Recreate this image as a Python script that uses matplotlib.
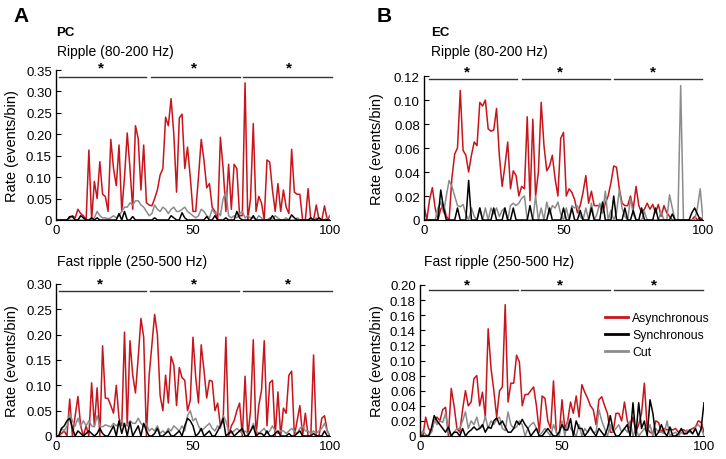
import numpy as np
import matplotlib
matplotlib.use("Agg")
import matplotlib.pyplot as plt

plt.rcParams['font.family'] = ['Liberation Sans', 'DejaVu Sans']

# time bins 0..100
bins = list(range(101))

# PC, ripple (80-200 Hz)
pc_rip_asyn = [0, 0, 0, 0, 0, 0.005, 0.01, 0.005, 0.025, 0.015,
               0.01, 0.0, 0.163, 0.0, 0.09, 0.05, 0.136, 0.06, 0.055, 0.02,
               0.188, 0.12, 0.08, 0.175, 0.02, 0.1, 0.203, 0.12, 0.025, 0.22,
               0.19, 0.07, 0.175, 0.04, 0.035, 0.033, 0.05, 0.07, 0.105, 0.12,
               0.24, 0.22, 0.283, 0.2, 0.065, 0.238, 0.247, 0.12, 0.17, 0.1,
               0.02, 0.02, 0.1, 0.188, 0.14, 0.075, 0.085, 0.03, 0.02, 0.0,
               0.193, 0.12, 0.02, 0.13, 0.025, 0.13, 0.12, 0.01, 0.01, 0.32,
               0.0, 0.05, 0.225, 0.02, 0.055, 0.04, 0.0, 0.14, 0.135, 0.07,
               0.02, 0.085, 0.02, 0.07, 0.03, 0.015, 0.165, 0.065, 0.06, 0.06,
               0.0, 0.0, 0.073, 0.0, 0.0, 0.035, 0.0, 0.0, 0.033, 0.0, 0.01]
pc_rip_syn = [0, 0, 0, 0, 0, 0.008, 0.008, 0, 0, 0.01,
              0.005, 0, 0, 0.005, 0, 0.005, 0, 0, 0, 0,
              0, 0, 0, 0.015, 0, 0.02, 0, 0, 0.008, 0,
              0, 0, 0, 0, 0, 0, 0.005, 0, 0, 0,
              0, 0, 0.01, 0.005, 0, 0, 0.017, 0.005, 0, 0,
              0, 0, 0, 0, 0, 0.008, 0, 0, 0.01, 0,
              0, 0, 0.005, 0, 0, 0, 0.02, 0.005, 0, 0,
              0, 0, 0.01, 0, 0, 0, 0, 0, 0, 0.01,
              0, 0, 0, 0, 0, 0, 0.012, 0.005, 0, 0,
              0, 0, 0, 0.005, 0, 0, 0.005, 0, 0, 0, 0]
pc_rip_cut = [0, 0, 0, 0, 0, 0, 0, 0, 0, 0,
              0, 0, 0, 0, 0.005, 0.02, 0.01, 0.005, 0.005, 0.003,
              0.005, 0.01, 0.005, 0.01, 0.02, 0.03, 0.03, 0.04, 0.035, 0.045,
              0.045, 0.035, 0.03, 0.02, 0.01, 0.015, 0.035, 0.025, 0.02, 0.03,
              0.025, 0.015, 0.025, 0.03, 0.02, 0.02, 0.025, 0.03, 0.02, 0.015,
              0.01, 0.005, 0.01, 0.025, 0.02, 0.01, 0.005, 0.025, 0.015, 0.02,
              0.01, 0.05, 0.065, 0.01, 0.005, 0.01, 0.005, 0.015, 0.02, 0.005,
              0.01, 0.005, 0.005, 0, 0.01, 0.005, 0, 0, 0.005, 0,
              0.01, 0.005, 0, 0, 0.005, 0, 0, 0, 0.005, 0,
              0, 0, 0, 0, 0, 0.005, 0, 0, 0, 0.005, 0.01]

# EC, ripple (80-200 Hz)
ec_rip_asyn = [0.012, 0.0, 0.017, 0.027, 0.01, 0.0, 0.009, 0.013, 0.003, 0.0,
               0.035, 0.055, 0.06, 0.108, 0.058, 0.054, 0.04, 0.054, 0.065, 0.062,
               0.098, 0.095, 0.1, 0.076, 0.074, 0.075, 0.093, 0.054, 0.028, 0.045,
               0.065, 0.026, 0.041, 0.037, 0.02, 0.028, 0.026, 0.086, 0.016, 0.084,
               0.02, 0.04, 0.098, 0.062, 0.041, 0.045, 0.054, 0.034, 0.02, 0.068,
               0.073, 0.02, 0.026, 0.023, 0.017, 0.006, 0.012, 0.023, 0.037, 0.014,
               0.024, 0.012, 0.012, 0.012, 0.006, 0.014, 0.02, 0.031, 0.045, 0.044,
               0.026, 0.014, 0.012, 0.012, 0.02, 0.009, 0.028, 0.012, 0.006, 0.009,
               0.014, 0.009, 0.013, 0.006, 0.013, 0.003, 0.012, 0.006, 0.003, 0.0,
               0, 0, 0, 0, 0, 0, 0, 0.003, 0, 0.002, 0]
ec_rip_syn = [0, 0, 0, 0, 0, 0, 0.025, 0.01, 0, 0,
              0, 0, 0.01, 0, 0, 0, 0.033, 0, 0, 0,
              0.01, 0, 0, 0, 0, 0.01, 0, 0, 0, 0.01,
              0, 0, 0.01, 0, 0, 0, 0, 0, 0.012, 0,
              0, 0, 0, 0, 0, 0.01, 0, 0, 0, 0,
              0.01, 0, 0, 0.01, 0, 0, 0.008, 0, 0, 0,
              0.01, 0, 0, 0, 0.015, 0, 0, 0, 0.02, 0,
              0, 0, 0.01, 0, 0, 0.008, 0, 0, 0.01, 0,
              0, 0, 0, 0.01, 0, 0, 0, 0, 0, 0.005,
              0, 0, 0, 0, 0, 0, 0.006, 0.01, 0.005, 0, 0]
ec_rip_cut = [0, 0, 0, 0, 0, 0.01, 0.015, 0.006, 0.02, 0.033,
              0.028, 0.02, 0.012, 0.011, 0.013, 0.005, 0, 0.01, 0.003, 0,
              0.01, 0, 0.01, 0, 0.01, 0.005, 0.01, 0.003, 0.008, 0.01,
              0, 0.012, 0.014, 0.012, 0.014, 0.018, 0.02, 0, 0, 0,
              0.02, 0, 0.01, 0, 0.015, 0.005, 0.012, 0.01, 0.015, 0.005,
              0, 0.01, 0, 0.012, 0.01, 0.012, 0.003, 0, 0.01, 0,
              0.014, 0, 0.005, 0.014, 0.006, 0.024, 0, 0.008, 0, 0.006,
              0.025, 0.01, 0.003, 0, 0.018, 0.005, 0, 0, 0, 0.007,
              0, 0, 0, 0, 0, 0.007, 0, 0, 0.021, 0.01,
              0, 0, 0.112, 0, 0, 0, 0, 0, 0.01, 0.026, 0]

# PC, fast ripple (250-500 Hz)
pc_fr_asyn = [0, 0, 0.005, 0.01, 0.0, 0.073, 0.0, 0.04, 0.078, 0.02,
              0, 0.02, 0, 0.105, 0.02, 0.095, 0, 0.178, 0.075, 0.074,
              0.06, 0.045, 0.1, 0.035, 0.02, 0.205, 0.02, 0.188, 0.12, 0.085,
              0.155, 0.232, 0.195, 0.0, 0.12, 0.18, 0.24, 0.2, 0.08, 0.05,
              0.12, 0.065, 0.157, 0.14, 0.06, 0.135, 0.115, 0.11, 0.05, 0.07,
              0.195, 0.115, 0.065, 0.18, 0.13, 0.075, 0.11, 0.108, 0.05, 0.065,
              0.02, 0.03, 0.195, 0.0, 0.02, 0.03, 0.05, 0.065, 0.0, 0.118,
              0.0, 0.05, 0.19, 0.0, 0.06, 0.09, 0.188, 0.02, 0.105, 0.11,
              0.0, 0.087, 0.0, 0.055, 0.045, 0.12, 0.128, 0.0, 0.03, 0.06,
              0.0, 0.045, 0.0, 0.0, 0.16, 0.0, 0.0, 0.035, 0.04, 0.01, 0.0]
pc_fr_syn = [0, 0, 0.015, 0.02, 0.03, 0.035, 0.015, 0, 0.01, 0.005,
             0, 0.005, 0.01, 0.005, 0, 0.005, 0.015, 0.005, 0, 0,
             0.01, 0.02, 0, 0.03, 0.005, 0.025, 0, 0.028, 0, 0.01,
             0.02, 0, 0.025, 0.01, 0, 0, 0.005, 0.015, 0, 0,
             0.005, 0.01, 0, 0, 0.005, 0.01, 0, 0.02, 0.035, 0.03,
             0.02, 0, 0.005, 0.015, 0, 0.005, 0.01, 0, 0, 0.01,
             0.02, 0.035, 0, 0.005, 0.01, 0, 0.005, 0.01, 0.015, 0,
             0, 0.01, 0.02, 0, 0.005, 0.005, 0, 0.01, 0, 0,
             0.005, 0.01, 0, 0, 0, 0.005, 0, 0, 0.005, 0.01,
             0, 0, 0, 0, 0.005, 0, 0, 0, 0.01, 0, 0]
pc_fr_cut = [0, 0, 0.015, 0.01, 0.02, 0.045, 0.03, 0.02, 0.035, 0.02,
             0.03, 0.02, 0.03, 0.02, 0.018, 0.04, 0.02, 0.018, 0.022, 0.02,
             0.018, 0.025, 0.02, 0.025, 0.03, 0.02, 0.022, 0.03, 0.025, 0.025,
             0.035, 0.025, 0.02, 0.025, 0.01, 0.015, 0.01, 0.02, 0.005, 0.01,
             0.005, 0.015, 0.01, 0.02, 0.015, 0.01, 0.02, 0.01, 0.04, 0.05,
             0.03, 0.035, 0.02, 0.01, 0.015, 0.02, 0.025, 0.015, 0.01, 0.02,
             0.015, 0.04, 0.03, 0.01, 0.005, 0.01, 0.015, 0.01, 0.005, 0.01,
             0.005, 0.01, 0.025, 0.01, 0.005, 0.01, 0.015, 0.005, 0.01, 0.02,
             0.01, 0.005, 0.01, 0.01, 0.005, 0.01, 0.015, 0.01, 0.005, 0.015,
             0.02, 0.01, 0.01, 0.005, 0.01, 0.005, 0.01, 0.015, 0.025, 0.01, 0]

# EC, fast ripple (250-500 Hz)
ec_fr_asyn = [0.005, 0, 0.025, 0.01, 0.005, 0.02, 0.025, 0.02, 0.035, 0.038,
              0.0, 0.063, 0.04, 0.01, 0.005, 0.035, 0.06, 0.04, 0.045, 0.076,
              0.08, 0.04, 0.058, 0.025, 0.142, 0.09, 0.06, 0.025, 0.06, 0.065,
              0.174, 0.045, 0.07, 0.07, 0.107, 0.098, 0.04, 0.055, 0.055, 0.06,
              0.065, 0.04, 0.005, 0.053, 0.05, 0.02, 0.01, 0.073, 0.005, 0.0,
              0.048, 0.01, 0.02, 0.045, 0.03, 0.053, 0.025, 0.068, 0.058, 0.05,
              0.04, 0.035, 0.015, 0.048, 0.052, 0.04, 0.03, 0.005, 0.005, 0.03,
              0.03, 0.02, 0.045, 0.02, 0.01, 0.025, 0.005, 0.015, 0.03, 0.07,
              0.01, 0.005, 0.003, 0.02, 0.018, 0.005, 0.01, 0.008, 0.01, 0.008,
              0.01, 0.005, 0.008, 0.008, 0.005, 0.008, 0.01, 0.012, 0.02, 0.018, 0.005]
ec_fr_syn = [0, 0, 0, 0, 0.01, 0.027, 0.02, 0.015, 0.01, 0.005,
             0.012, 0, 0.005, 0.005, 0, 0.01, 0, 0.005, 0.008, 0.012,
             0.008, 0.01, 0.015, 0.005, 0.012, 0.01, 0.02, 0.024, 0.015, 0.02,
             0.012, 0.005, 0.005, 0.01, 0.02, 0.015, 0.022, 0.015, 0.01, 0,
             0.005, 0.01, 0, 0, 0.005, 0.01, 0.005, 0, 0, 0.005,
             0.015, 0.008, 0.008, 0.023, 0, 0.02, 0.01, 0.01, 0, 0.005,
             0.012, 0.005, 0, 0.01, 0.005, 0, 0.01, 0.027, 0.008, 0,
             0, 0.005, 0.01, 0.015, 0, 0.044, 0, 0.044, 0.01, 0.02,
             0, 0.048, 0.03, 0, 0.005, 0.015, 0.005, 0, 0.012, 0,
             0, 0.003, 0.01, 0.003, 0.003, 0.008, 0.003, 0.01, 0, 0.01, 0.044]
ec_fr_cut = [0, 0.007, 0.002, 0, 0.005, 0.022, 0.015, 0.02, 0.018, 0.03,
             0.005, 0, 0.005, 0.01, 0.01, 0.02, 0.032, 0.01, 0.02, 0.015,
             0.025, 0.01, 0.012, 0.026, 0.01, 0.02, 0.015, 0.022, 0.025, 0.01,
             0.007, 0.032, 0.015, 0.01, 0.012, 0.02, 0.015, 0, 0.01, 0.015,
             0.018, 0.01, 0, 0.005, 0.01, 0.005, 0, 0.015, 0.005, 0,
             0.02, 0, 0.02, 0.01, 0.005, 0, 0.015, 0, 0.01, 0.005,
             0.01, 0.005, 0.005, 0.035, 0.02, 0.01, 0, 0.015, 0.005, 0.01,
             0.015, 0.005, 0.01, 0.005, 0.02, 0, 0.01, 0, 0.005, 0.01,
             0.005, 0.015, 0, 0.01, 0.005, 0.005, 0.003, 0.02, 0, 0.003,
             0.005, 0, 0.005, 0.002, 0.008, 0.005, 0.003, 0.012, 0.015, 0.01, 0]

RED = '#c8141b'
BLK = '#000000'
GRY = '#8c8c8c'
W, H = 726, 460


def px_rect(left, right, bottom, top):
    return [left / W, 1 - bottom / H, (right - left) / W, (bottom - top) / H]


def draw_panel(ax, asyn, syn, cut, ymax, ystep, bar_y, segs, stars, star_y, label_x):
    ax.plot(bins, asyn, color=RED, lw=1.1, label='Asynchronous')
    ax.plot(bins, cut, color=GRY, lw=1.1, label='Cut')
    ax.plot(bins, syn, color=BLK, lw=1.1, label='Synchronous')
    ax.set_xlim(0, 100)
    ax.set_ylim(0, ymax)
    ticks = np.round(np.arange(0, ymax + ystep / 2, ystep), 3)
    ax.set_yticks(ticks)
    ax.set_yticklabels(['0'] + ['%.2f' % t for t in ticks[1:]])
    ax.set_xticks([0, 50, 100])
    ax.spines['top'].set_visible(False)
    ax.spines['right'].set_visible(False)
    ax.spines['left'].set_linewidth(1.0)
    ax.spines['bottom'].set_linewidth(0.8)
    ax.tick_params(axis='y', direction='in', length=3.5, labelsize=9.5, pad=3)
    ax.tick_params(axis='x', length=0, labelsize=9.5, pad=3)
    ax.set_ylabel('Rate (events/bin)', fontsize=10.5)
    ax.yaxis.set_label_coords(label_x, 0.5)
    for s0, s1 in segs:
        ax.plot([s0, s1], [bar_y, bar_y], color='#333333', lw=1.0, clip_on=False)
    for sx in stars:
        ax.text(sx, star_y, '*', ha='center', va='center', fontsize=11,
                fontweight='bold', clip_on=False)


fig = plt.figure(figsize=(W / 100, H / 100), dpi=100)

ax1 = fig.add_axes(px_rect(56, 330, 221, 71))
draw_panel(ax1, pc_rip_asyn, pc_rip_syn, pc_rip_cut, 0.35, 0.05, 0.334,
           [(1, 33), (34.5, 67), (68.4, 100.6)], [16.5, 50.5, 85], 0.357, -0.135)

ax2 = fig.add_axes(px_rect(424, 703, 221, 77))
draw_panel(ax2, ec_rip_asyn, ec_rip_syn, ec_rip_cut, 0.12, 0.02, 0.1175,
           [(1.9, 33.4), (35, 66.6), (68, 99.8)], [15.5, 48.7, 81.9], 0.124, -0.143)

ax3 = fig.add_axes(px_rect(56, 330, 437, 285))
draw_panel(ax3, pc_fr_asyn, pc_fr_syn, pc_fr_cut, 0.30, 0.05, 0.287,
           [(1, 32.7), (34.3, 66.8), (68.4, 100.6)], [16, 50.4, 84.8], 0.301, -0.135)

ax4 = fig.add_axes(px_rect(420, 704, 437, 286))
draw_panel(ax4, ec_fr_asyn, ec_fr_syn, ec_fr_cut, 0.20, 0.02, 0.193,
           [(3, 34.5), (35.6, 67), (68.4, 99.8)], [16.5, 49.4, 82.5], 0.201, -0.127)

handles, labels = ax4.get_legend_handles_labels()
order = [0, 2, 1]
ax4.legend([handles[i] for i in order], [labels[i] for i in order],
           loc='upper left', bbox_to_anchor=(0.65, 0.82), frameon=False,
           fontsize=8.8, handlelength=1.9, handletextpad=0.35,
           labelspacing=0.4, borderpad=0, borderaxespad=0)
for line in ax4.get_legend().get_lines():
    line.set_linewidth(2.0)

# panel letters and titles
fig.text(13 / W, 1 - 17 / H, 'A', fontsize=15, fontweight='bold', va='center')
fig.text(377 / W, 1 - 17 / H, 'B', fontsize=15, fontweight='bold', va='center')
fig.text(56 / W, 1 - 33 / H, 'PC', fontsize=9.5, fontweight='bold', va='center')
fig.text(431 / W, 1 - 33 / H, 'EC', fontsize=9.5, fontweight='bold', va='center')
fig.text(57 / W, 1 - 52 / H, 'Ripple (80-200 Hz)', fontsize=10, va='center')
fig.text(431 / W, 1 - 52 / H, 'Ripple (80-200 Hz)', fontsize=10, va='center')
fig.text(57 / W, 1 - 262 / H, 'Fast ripple (250-500 Hz)', fontsize=10, va='center')
fig.text(424 / W, 1 - 262 / H, 'Fast ripple (250-500 Hz)', fontsize=10, va='center')

fig.savefig('out.png', dpi=100)
